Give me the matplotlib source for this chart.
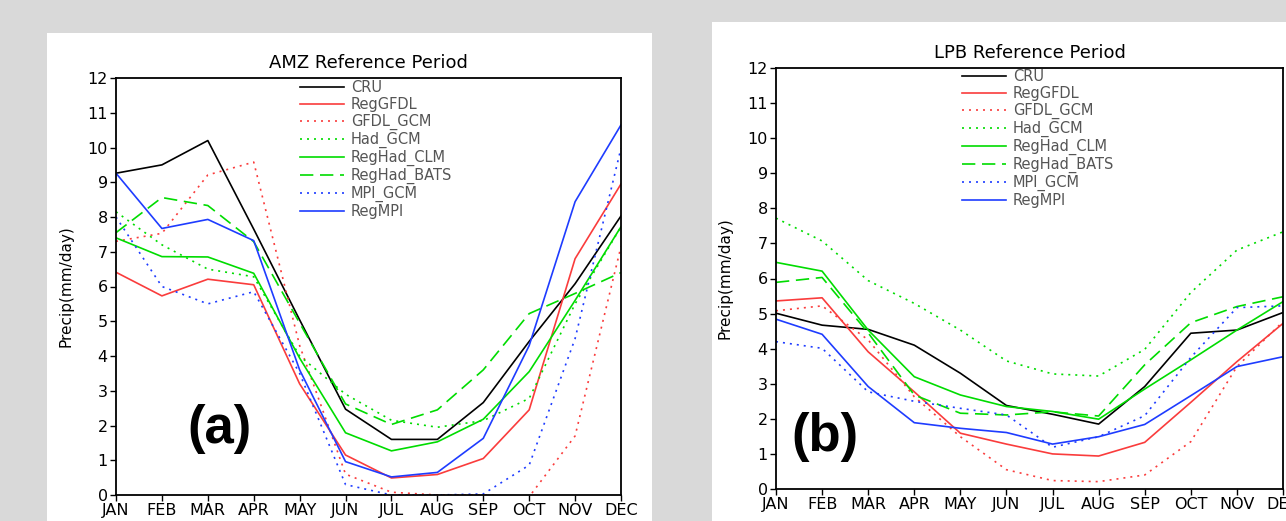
import matplotlib
matplotlib.use("Agg")
import matplotlib.pyplot as plt
from matplotlib.patches import Rectangle

months = ['JAN', 'FEB', 'MAR', 'APR', 'MAY', 'JUN', 'JUL', 'AUG', 'SEP', 'OCT', 'NOV', 'DEC']
series_names = ['CRU', 'RegGFDL', 'GFDL_GCM', 'Had_GCM', 'RegHad_CLM', 'RegHad_BATS', 'MPI_GCM', 'RegMPI']

# AMZ reference period (mm/day)
amz_cru = [9.26, 9.50, 10.20, 7.65, 5.04, 2.47, 1.60, 1.60, 2.66, 4.42, 6.08, 8.03]
amz_reggfdl = [6.41, 5.73, 6.21, 6.05, 3.20, 1.15, 0.49, 0.59, 1.05, 2.45, 6.80, 8.95]
amz_gfdl_gcm = [7.30, 7.53, 9.21, 9.58, 4.30, 0.60, 0.08, 0.00, 0.00, -0.05, 1.70, 7.15]
amz_had_gcm = [8.15, 7.20, 6.50, 6.28, 4.00, 2.90, 2.15, 1.95, 2.14, 2.78, 5.50, 7.72]
amz_reghad_clm = [7.40, 6.86, 6.85, 6.38, 3.94, 1.79, 1.27, 1.53, 2.18, 3.55, 5.60, 7.72]
amz_reghad_bats = [7.55, 8.56, 8.33, 7.29, 4.95, 2.62, 2.03, 2.45, 3.60, 5.22, 5.80, 6.40]
amz_mpi_gcm = [8.00, 6.00, 5.50, 5.85, 3.50, 0.30, 0.00, 0.00, 0.03, 0.86, 4.50, 9.98]
amz_regmpi = [9.26, 7.67, 7.93, 7.32, 3.60, 0.96, 0.52, 0.65, 1.63, 4.30, 8.44, 10.65]

# LPB reference period (mm/day)
lpb_cru = [5.01, 4.67, 4.55, 4.10, 3.30, 2.38, 2.13, 1.85, 2.92, 4.44, 4.53, 5.03]
lpb_reggfdl = [5.36, 5.45, 3.91, 2.77, 1.59, 1.28, 1.00, 0.94, 1.33, 2.47, 3.63, 4.72]
lpb_gfdl_gcm = [5.08, 5.22, 4.25, 2.63, 1.49, 0.55, 0.24, 0.21, 0.40, 1.35, 3.49, 4.77]
lpb_had_gcm = [7.72, 7.07, 5.94, 5.29, 4.53, 3.65, 3.28, 3.22, 3.98, 5.60, 6.81, 7.33]
lpb_reghad_clm = [6.46, 6.21, 4.53, 3.20, 2.68, 2.35, 2.21, 1.99, 2.85, 3.68, 4.53, 5.34]
lpb_reghad_bats = [5.89, 6.03, 4.45, 2.68, 2.16, 2.11, 2.20, 2.08, 3.54, 4.74, 5.20, 5.48]
lpb_mpi_gcm = [4.20, 4.01, 2.77, 2.50, 2.30, 2.11, 1.19, 1.49, 2.09, 3.75, 5.17, 5.22]
lpb_regmpi = [4.84, 4.41, 2.92, 1.89, 1.73, 1.61, 1.28, 1.49, 1.84, 2.66, 3.49, 3.77]

yticks = list(range(0, 13))

RED = '#fa3c3c'
GREEN = '#00dc00'
BLUE = '#1e3cff'
styles = [
    dict(color='black', linestyle='-'),
    dict(color=RED, linestyle='-'),
    dict(color=RED, linestyle=(0, (1.2, 3.0))),
    dict(color=GREEN, linestyle=(0, (1.2, 3.0))),
    dict(color=GREEN, linestyle='-'),
    dict(color=GREEN, linestyle=(0, (8, 4))),
    dict(color=BLUE, linestyle=(0, (1.2, 3.0))),
    dict(color=BLUE, linestyle='-'),
]

W, H = 1286, 521
fig = plt.figure(figsize=(W / 100, H / 100), dpi=100)
fig.patch.set_facecolor('#d9d9d9')

# white panel backgrounds
fig.add_artist(Rectangle((47 / W, 0), (652 - 47) / W, (H - 33) / H,
                         transform=fig.transFigure, facecolor='white', edgecolor='none', zorder=0))
fig.add_artist(Rectangle((712 / W, 0), (W - 712) / W, (H - 22) / H,
                         transform=fig.transFigure, facecolor='white', edgecolor='none', zorder=0))


def panel(px0, px1, ptop, pbot, data, title, tag, tag_xy, leg_anchor, ylab_x):
    ax = fig.add_axes([px0 / W, (H - pbot) / H, (px1 - px0) / W, (pbot - ptop) / H])
    ax.set_facecolor('none')
    x = list(range(len(months)))
    for vals, name, st in zip(data, series_names, styles):
        ax.plot(x, vals, label=name, linewidth=1.2, **st)
    ax.set_xlim(0, 11)
    ax.set_ylim(0, 12)
    ax.set_xticks(x)
    ax.set_xticklabels(months)
    ax.set_yticks(yticks)
    ax.set_yticklabels([str(v) for v in yticks])
    ax.tick_params(direction='out', length=4, width=1.0, labelsize=11.5, pad=2, colors='black')
    for sp in ax.spines.values():
        sp.set_linewidth(1.3)
    ax.set_title(title, fontsize=13, pad=7)
    ax.set_ylabel('Precip(mm/day)', fontsize=11)
    ax.yaxis.set_label_coords(ylab_x, 0.5)
    ax.legend(loc='upper left', bbox_to_anchor=leg_anchor, frameon=False,
              fontsize=10.5, handlelength=3.0, handletextpad=0.5,
              labelspacing=0.13, borderpad=0, borderaxespad=0,
              labelcolor='#555555')
    ax.text(tag_xy[0], tag_xy[1], tag, transform=ax.transAxes, fontsize=38,
            fontweight='bold', family='Liberation Sans', ha='center', va='center')
    return ax


panel(116, 621, 78, 495,
      [amz_cru, amz_reggfdl, amz_gfdl_gcm, amz_had_gcm, amz_reghad_clm, amz_reghad_bats, amz_mpi_gcm, amz_regmpi],
      'AMZ Reference Period', '(a)', ((219 - 116) / 505, (495 - 429) / 417),
      ((300 - 116) / 505, 0.995), -0.085)

panel(776, 1283, 68, 489,
      [lpb_cru, lpb_reggfdl, lpb_gfdl_gcm, lpb_had_gcm, lpb_reghad_clm, lpb_reghad_bats, lpb_mpi_gcm, lpb_regmpi],
      'LPB Reference Period', '(b)', ((825 - 776) / 507, (489 - 437) / 421),
      ((962 - 776) / 507, 0.998), -0.085)

fig.savefig('out.png', dpi=100, facecolor=fig.get_facecolor())
